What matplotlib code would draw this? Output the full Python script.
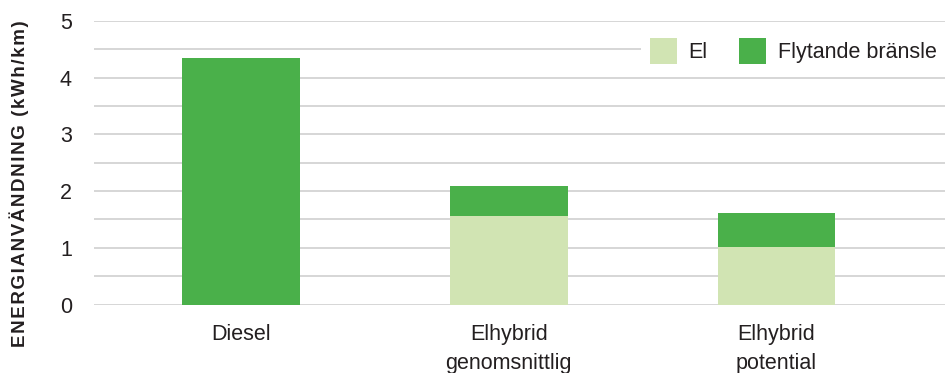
import numpy as np
import matplotlib.pyplot as plt
from matplotlib.ticker import MultipleLocator

categories = ['Diesel', 'Elhybrid\ngenomsnittlig', 'Elhybrid\npotential']
el = [0.0, 1.56, 1.01]
flytande = [4.34, 0.53, 0.60]
ylabel = 'ENERGIANVÄNDNING (kWh/km)'

light_green = '#d1e4b3'
dark_green = '#4ab04a'

plt.rcParams['font.family'] = ['Liberation Sans', 'DejaVu Sans']

fig = plt.figure(figsize=(9.47, 3.73), dpi=100)
ax = fig.add_axes([0.0993, 0.1836, 0.8987, 0.7604])

x = np.arange(len(categories))
ax.bar(x, el, width=0.44, color=light_green, label='El', zorder=3)
ax.bar(x, flytande, width=0.44, bottom=el, color=dark_green,
       label='Flytande bränsle', zorder=3)

ax.set_ylim(0, 5)
ax.set_xlim(-0.55, 2.63)
ax.yaxis.set_major_locator(MultipleLocator(1))
ax.yaxis.set_minor_locator(MultipleLocator(0.5))
ax.grid(axis='y', which='both', color='#d0d0d0', linewidth=1.2, zorder=0)
ax.set_axisbelow(True)
for s in ax.spines.values():
    s.set_visible(False)

ax.set_xticks(x)
ax.set_xticklabels(categories, fontsize=15.5, color='#231f20', linespacing=1.5)
ax.tick_params(axis='x', length=0, pad=14)
ax.tick_params(axis='y', which='both', length=0, pad=16, labelsize=15.5,
               labelcolor='#231f20')

# letter-spaced label like the original
spaced = '\u200a'.join(ylabel)
ax.set_ylabel(spaced, fontsize=13.5, fontweight='bold', color='#231f20')
ax.yaxis.set_label_coords(-0.077, 0.425)

leg = ax.legend(loc='upper right', ncol=2, frameon=True, fontsize=15.5,
                handlelength=1.25, handleheight=1.5, columnspacing=1.45,
                handletextpad=0.55, borderaxespad=0.0,
                bbox_to_anchor=(1.0, 0.97))
leg.get_frame().set_edgecolor('none')
leg.get_frame().set_facecolor('white')
leg.get_frame().set_alpha(1.0)
for t in leg.get_texts():
    t.set_color('#231f20')

fig.savefig('out.png', dpi=100)
